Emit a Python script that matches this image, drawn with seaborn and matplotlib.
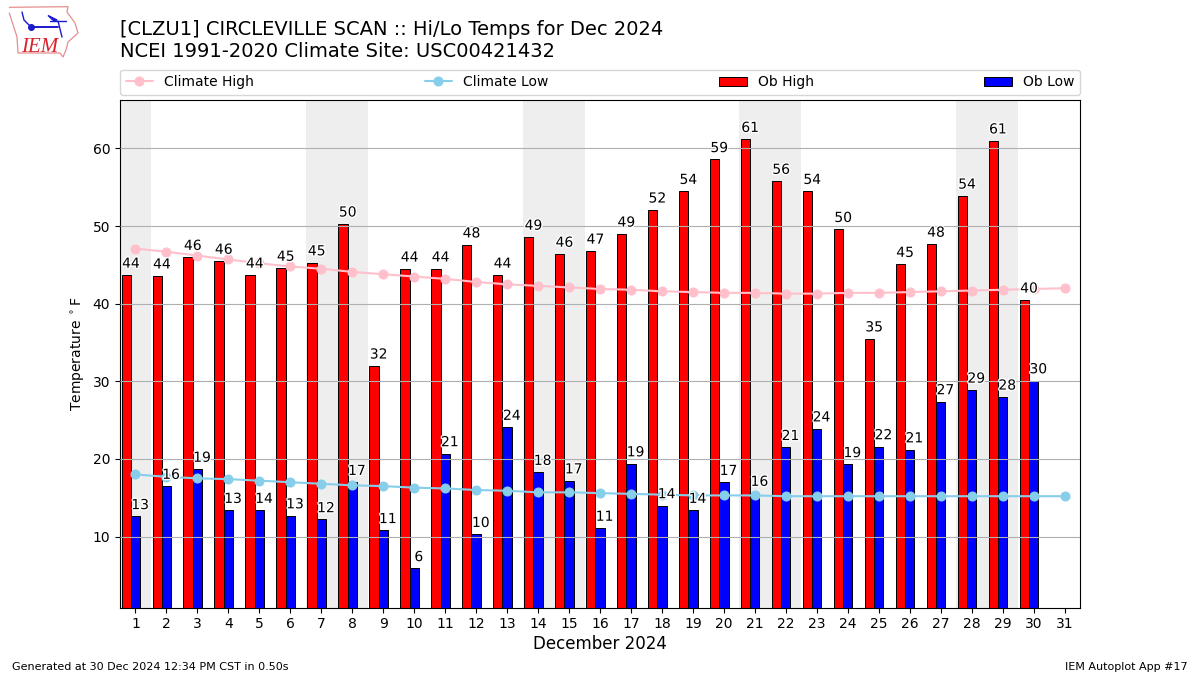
import numpy as np
import pandas as pd
import matplotlib
matplotlib.use("Agg")
import matplotlib.pyplot as plt
import matplotlib.patheffects as pe
import seaborn as sns

days = list(range(1, 32))
clim_high = [47.1,46.7,46.2,45.7,45.2,44.8,44.5,44.1,43.8,43.5,43.2,42.8,42.5,42.3,42.1,41.9,41.8,41.6,41.5,41.4,41.4,41.3,41.3,41.4,41.4,41.5,41.6,41.7,41.8,41.9,42.0]
clim_low = [18.0,17.7,17.5,17.4,17.2,17.0,16.8,16.6,16.5,16.3,16.2,16.0,15.9,15.7,15.7,15.6,15.5,15.4,15.3,15.3,15.3,15.2,15.2,15.2,15.2,15.2,15.2,15.2,15.2,15.2,15.2]
ob_high = [43.7,43.6,46.0,45.5,43.7,44.6,45.3,50.3,32.0,44.5,44.5,47.6,43.7,48.6,46.4,46.8,49.0,52.1,54.5,58.6,61.2,55.8,54.5,49.6,35.5,45.1,47.7,53.9,61.0,40.5]
ob_low = [12.6,16.5,18.7,13.4,13.4,12.7,12.2,17.0,10.8,5.9,20.7,10.3,24.1,18.3,17.2,11.1,19.4,14.0,13.4,17.0,15.6,21.5,23.9,19.3,21.6,21.2,27.4,28.9,28.0,30.1]
high_labels = [44,44,46,46,44,45,45,50,32,44,44,48,44,49,46,47,49,52,54,59,61,56,54,50,35,45,48,54,61,40]
low_labels = [13,16,19,13,14,13,12,17,11,6,21,10,24,18,17,11,19,14,14,17,16,21,24,19,22,21,27,29,28,30]
weekend_starts = [1, 7, 14, 21, 28]
weekend_ends = [1, 8, 15, 22, 29]

sns.set_theme(style="white", rc={"font.family": "DejaVu Sans"})
plt.rcParams["font.family"] = ["DejaVu Sans"]
plt.rcParams["legend.labelcolor"] = "black"
fig = plt.figure(figsize=(12, 6.75), dpi=100)
ax = fig.add_axes([0.1, 0.1, 0.8, 0.752])
ax.set_axisbelow(False)

for s, e in zip(weekend_starts, weekend_ends):
    ax.axvspan(s - 0.5, e + 0.5, color="#eeeeee", zorder=0, lw=0)
ax.yaxis.grid(True, color="#b0b0b0", lw=0.8, zorder=1.5)

w = 0.3
df = pd.DataFrame({"day": days[:30], "high": ob_high, "low": ob_low})
ax.bar(df["day"] - w, df["high"], width=w, color="red", edgecolor="black", linewidth=0.7, zorder=2, label="Ob High")
ax.bar(df["day"], df["low"], width=w, color="blue", edgecolor="black", linewidth=0.7, zorder=2, label="Ob Low")

cdf = pd.DataFrame({"day": days, "high": clim_high, "low": clim_low})
sns.lineplot(data=cdf, x="day", y="high", ax=ax, color="pink", marker="o", markersize=6.5, markeredgecolor="pink", lw=1.5, zorder=3, label="Climate High")
sns.lineplot(data=cdf, x="day", y="low", ax=ax, color="skyblue", marker="o", markersize=6.5, markeredgecolor="skyblue", lw=1.5, zorder=3, label="Climate Low")

halo = [pe.withStroke(linewidth=2, foreground="white")]
for d, v, l in zip(days, ob_high, high_labels):
    ax.text(d - w/2, v + 0.55, str(l), ha="center", va="bottom", fontsize=10, color="black", zorder=4, path_effects=halo)
for d, v, l in zip(days, ob_low, low_labels):
    ax.text(d + w/2, v + 0.55, str(l), ha="center", va="bottom", fontsize=10, color="black", zorder=4, path_effects=halo)

ax.set_xlim(0.5, 31.5)
ax.set_ylim(0.86, 66.26)
ax.set_xticks(days)
ax.set_yticks([10, 20, 30, 40, 50, 60])
ax.tick_params(axis="both", which="major", length=3.5, width=0.8, color="black", labelsize=10, labelcolor="black", bottom=True, left=True, pad=3.5)
for sp in ax.spines.values():
    sp.set_color("black"); sp.set_linewidth(0.8); sp.set_visible(True)
ax.set_xlabel("December 2024", fontsize=12, color="black", labelpad=3)
ax.set_ylabel("Temperature $^\\circ$F", fontsize=10, color="black")

h, l = ax.get_legend_handles_labels()
order = [l.index(n) for n in ["Climate High", "Climate Low", "Ob High", "Ob Low"]]
ax.legend([h[i] for i in order], [l[i] for i in order], loc="lower left", bbox_to_anchor=(0, 1.01, 1, 0.05), mode="expand", ncol=4, fontsize=10, borderaxespad=0, frameon=True)

fig.text(0.1, 0.909, "[CLZU1] CIRCLEVILLE SCAN :: Hi/Lo Temps for Dec 2024\nNCEI 1991-2020 Climate Site: USC00421432", fontsize=14, color="black", va="bottom", ha="left", linespacing=1.2)
fig.text(0.01, 0.0075, "Generated at 30 Dec 2024 12:34 PM CST in 0.50s", fontsize=8, color="black")
fig.text(0.99, 0.0075, "IEM Autoplot App #17", fontsize=8, color="black", ha="right")

# IEM logo, drawn in pixel coordinates of a small decorative axes
lax = fig.add_axes([0, 1 - 60/675, 80/1200, 60/675])
lax.axis("off"); lax.set_xlim(0, 80); lax.set_ylim(60, 0)
outline_x = [9.3,68,67,75,78,68,66,63,60,18,17,9.3]
outline_y = [7.3,6.7,12,23,33,42,50,57,53,53,37,13]
lax.plot(outline_x, outline_y, color="#e58f8f", lw=0.9)
lax.text(21, 52, "IEM", color="#d8232a", fontsize=15, family="Liberation Serif", style="italic", va="baseline")
lax.plot([30,58], [26.5,26.5], color="#1a1ad0", lw=1.4)
lax.plot([31], [26.5], "o", color="#1a1ad0", ms=4)
lax.fill([48,57,54], [15.5,20,21], color="#1a1ad0")
lax.plot([50,66], [21,21], color="#1a1ad0", lw=1)
lax.plot([58,62], [21,37], color="#1a1ad0", lw=1)
lax.plot([22,24,30], [12,20,26], color="#1a1ad0", lw=1)

fig.savefig("out.png", dpi=100)
